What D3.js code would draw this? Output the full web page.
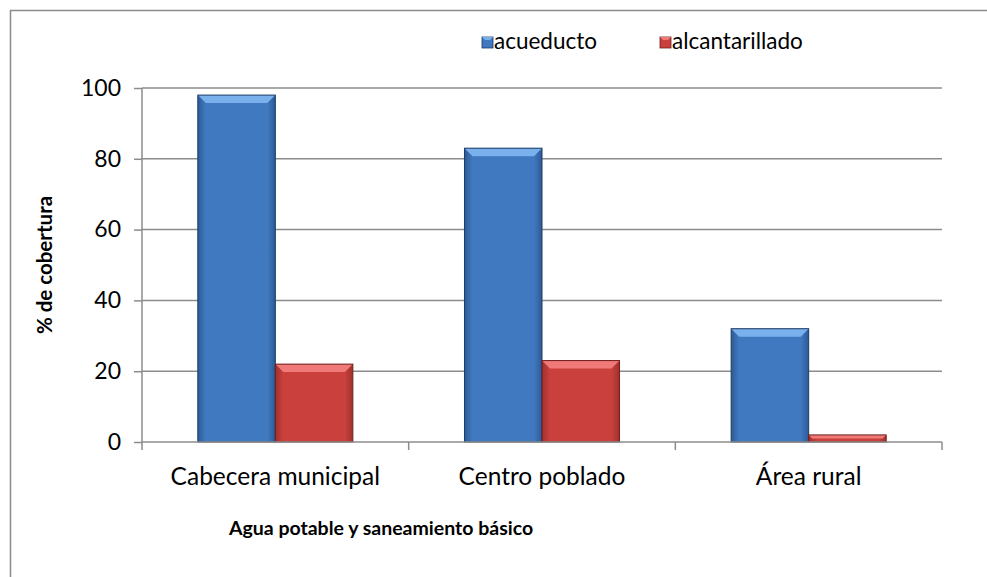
<!DOCTYPE html>
<html lang="es">
<head>
    <meta charset="UTF-8">
    <title>Cobertura acueducto y alcantarillado</title>
    <script src="https://d3js.org/d3.v7.min.js"></script>
    <style>
        body { margin: 0; background: #fff; }
        svg text { font-family: Lato, "Open Sans", sans-serif; fill: #000; }
    </style>
</head>
<body>
    <svg id="chart" width="987" height="577"></svg>
    <script>
        // data
        const categories = ["Cabecera municipal", "Centro poblado", "Área rural"];
        const seriesNames = ["acueducto", "alcantarillado"];
        const acueducto = [98, 83, 32];
        const alcantarillado = [22, 23, 2];
        const yTicks = [0, 20, 40, 60, 80, 100];

        const svg = d3.select("#chart");
        const margin = { top: 88, right: 45, bottom: 135, left: 142 },
            width = 987 - margin.left - margin.right,
            height = 577 - margin.top - margin.bottom;

        const palette = {
            acueducto: { main: "#4079c0", light: "#7ab0ec", dark: "#1d3b66", side: "#2c5a95" },
            alcantarillado: { main: "#c9403d", light: "#f07a78", dark: "#6e1e1d", side: "#a0302e" }
        };

        // gradients for the bevel look
        const defs = svg.append("defs");
        seriesNames.forEach(name => {
            const c = palette[name];
            const gr = defs.append("linearGradient").attr("id", "g-" + name)
                .attr("x1", "0").attr("x2", "1").attr("y1", "0").attr("y2", "0");
            gr.append("stop").attr("offset", "0").attr("stop-color", c.side);
            gr.append("stop").attr("offset", "0.1").attr("stop-color", c.main);
            gr.append("stop").attr("offset", "0.9").attr("stop-color", c.main);
            gr.append("stop").attr("offset", "1").attr("stop-color", c.side);
        });

        // outer frame
        svg.append("path")
            .attr("d", "M10.5,577 V10.5 H987")
            .attr("fill", "none")
            .attr("stroke", "#8c8c8c")
            .attr("stroke-width", 1.5);

        const g = svg.append("g").attr("transform", `translate(${margin.left},${margin.top})`);

        const x = d3.scaleBand().domain(categories).range([0, width]).padding(0);
        const x1 = d3.scaleBand().domain(seriesNames).range([0, x.bandwidth()]).paddingOuter(0.72).paddingInner(0);
        const y = d3.scaleLinear().domain([0, 100]).range([height, 0]);

        // gridlines
        g.append("g")
            .selectAll("line")
            .data(yTicks.filter(d => d > 0))
            .join("line")
            .attr("x1", 0).attr("x2", width)
            .attr("y1", d => y(d)).attr("y2", d => y(d))
            .attr("stroke", "#8c8c8c").attr("stroke-width", 1.5);

        // bars
        const rows = categories.map((c, i) => ({ cat: c, acueducto: acueducto[i], alcantarillado: alcantarillado[i] }));
        const bev = 8;
        rows.forEach(r => {
            seriesNames.forEach(name => {
                const bx = x(r.cat) + x1(name), bw = x1.bandwidth();
                const by = y(r[name]), bh = y(0) - y(r[name]);
                const c = palette[name];
                const bar = g.append("g");
                bar.append("rect")
                    .attr("x", bx).attr("y", by).attr("width", bw).attr("height", bh)
                    .attr("fill", `url(#g-${name})`);
                const b = Math.min(bev, bh / 2);
                bar.append("path")
                    .attr("d", `M${bx},${by} H${bx + bw} L${bx + bw - b},${by + b} H${bx + b} Z`)
                    .attr("fill", c.light);
                bar.append("rect")
                    .attr("x", bx).attr("y", by).attr("width", bw).attr("height", bh)
                    .attr("fill", "none")
                    .attr("stroke", c.dark).attr("stroke-width", 1);
            });
        });

        // axes
        const yAxis = g.append("g")
            .call(d3.axisLeft(y).tickValues(yTicks).tickSize(8).tickPadding(13));
        yAxis.attr("font-family", null).attr("font-size", 23);
        yAxis.select(".domain").attr("stroke", "#8c8c8c").attr("stroke-width", 1.5).attr("d", `M0,0V${height}`);
        yAxis.selectAll(".tick line").attr("stroke", "#8c8c8c").attr("stroke-width", 1.5);

        const xAxis = g.append("g")
            .attr("transform", `translate(0,${height})`)
            .call(d3.axisBottom(x).tickValues([]).tickSize(0));
        xAxis.select(".domain").attr("stroke", "#8c8c8c").attr("stroke-width", 1.5).attr("d", `M0,0H${width}`);
        // category boundary ticks
        xAxis.selectAll(".sep")
            .data([0, 1, 2, 3])
            .join("line")
            .attr("x1", d => d * x.step()).attr("x2", d => d * x.step())
            .attr("y1", 0).attr("y2", 8)
            .attr("stroke", "#8c8c8c").attr("stroke-width", 1.5);
        xAxis.selectAll(".cat")
            .data(categories)
            .join("text")
            .attr("x", d => x(d) + x.bandwidth() / 2)
            .attr("y", 43)
            .attr("text-anchor", "middle")
            .attr("font-size", 24.5)
            .text(d => d);

        // axis titles
        svg.append("text")
            .attr("transform", `translate(52,${margin.top + height / 2}) rotate(-90)`)
            .attr("text-anchor", "middle")
            .attr("font-size", 20.5).attr("font-weight", "bold")
            .text("% de cobertura");
        svg.append("text")
            .attr("x", 381).attr("y", 535)
            .attr("text-anchor", "middle")
            .attr("font-size", 19.5).attr("font-weight", "bold")
            .text("Agua potable y saneamiento básico");

        // legend
        const legendX = [482, 660];
        const legend = svg.append("g");
        seriesNames.forEach((name, i) => {
            const c = palette[name];
            const lg = legend.append("g").attr("transform", `translate(${legendX[i]},37)`);
            lg.append("rect").attr("width", 11).attr("height", 11)
                .attr("fill", c.main).attr("stroke", c.dark).attr("stroke-width", 0.8);
            lg.append("path").attr("d", "M0,0 H11 L8,3 H3 Z").attr("fill", c.light);
            lg.append("text").attr("x", 12).attr("y", 12)
                .attr("font-size", 22.5).text(name);
        });
    </script>
</body>
</html>
